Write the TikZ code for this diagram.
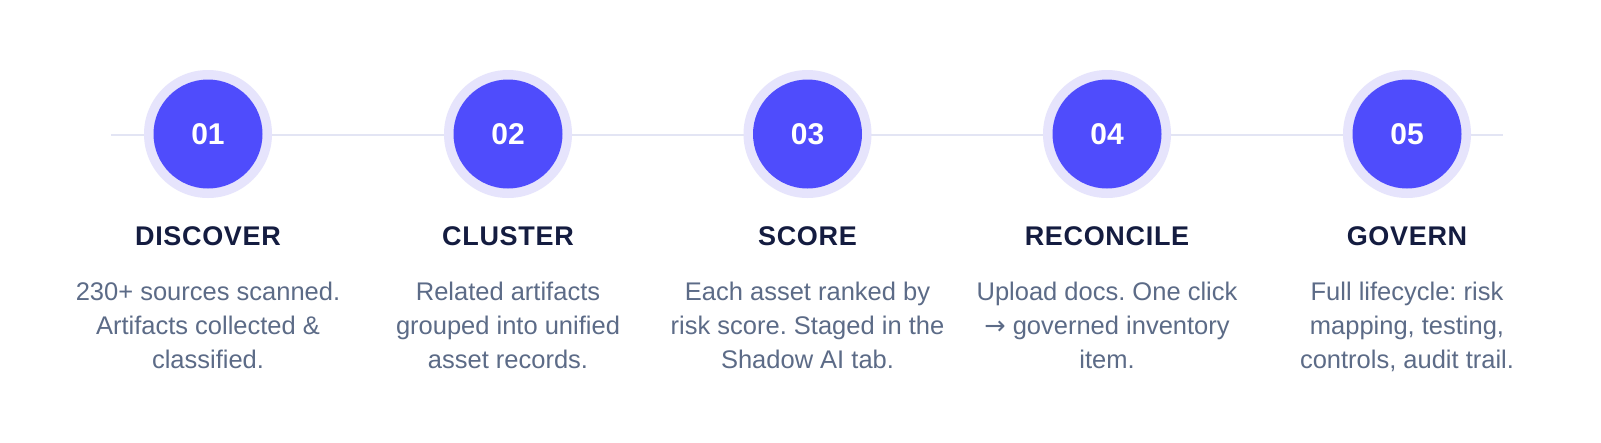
\documentclass[tikz,border=0pt]{standalone}
\usepackage{fontspec}
\setmainfont{Liberation Sans}
\newfontfamily\titlefont[LetterSpace=2.5]{Liberation Sans}
\newfontfamily\arrowfont{DejaVu Sans}
\definecolor{ringc}{HTML}{E6E4FC}
\definecolor{discc}{HTML}{4F4CFC}
\definecolor{linec}{HTML}{E3E5F4}
\definecolor{titlec}{HTML}{141C40}
\definecolor{bodyc}{HTML}{5C6B87}
\frenchspacing
\begin{document}
\begin{tikzpicture}[x=1pt,y=-1pt,
  ring/.style={circle,fill=ringc,minimum size=128pt,inner sep=0pt},
  disc/.style={circle,fill=discc,minimum size=109pt,inner sep=0pt,text=white,font=\fontsize{30}{30}\selectfont\bfseries},
  stitle/.style={anchor=base,inner sep=0pt,text=titlec,font=\fontsize{27}{27}\selectfont\titlefont\bfseries},
  sbody/.style={anchor=base,inner sep=0pt,text=bodyc,align=center,font=\fontsize{25.5}{34}\selectfont\frenchspacing}]
\useasboundingbox[fill=white] (0,0) rectangle (1601,442);
\coordinate (ls) at (111,135);
\coordinate (le) at (1503,135);
\draw[linec,line width=2.5pt] (ls) -- (le);
\foreach \i/\x/\t in {1/208/DISCOVER,2/508/CLUSTER,3/807.5/SCORE,4/1107/RECONCILE,5/1407/GOVERN}{
  \node[ring] (r\i) at (\x,134) {};
  \node[disc] (d\i) at (\x,134) {0\i};
  \node[stitle] (t\i) at (\x,245) {\t};
}
\node[sbody] (b1) at (208,368) {230+ sources scanned.\\Artifacts collected \&\\classified.};
\node[sbody] (b2) at (508,368) {Related artifacts\\grouped into unified\\asset records.};
\node[sbody] (b3) at (807.5,368) {Each asset ranked by\\risk score. Staged in the\\Shadow AI tab.};
\node[sbody] (b4) at (1107,368) {Upload docs. One click\\{\arrowfont →} governed inventory\\item.};
\node[sbody] (b5) at (1407,368) {Full lifecycle: risk\\mapping, testing,\\controls, audit trail.};
\end{tikzpicture}
\end{document}
